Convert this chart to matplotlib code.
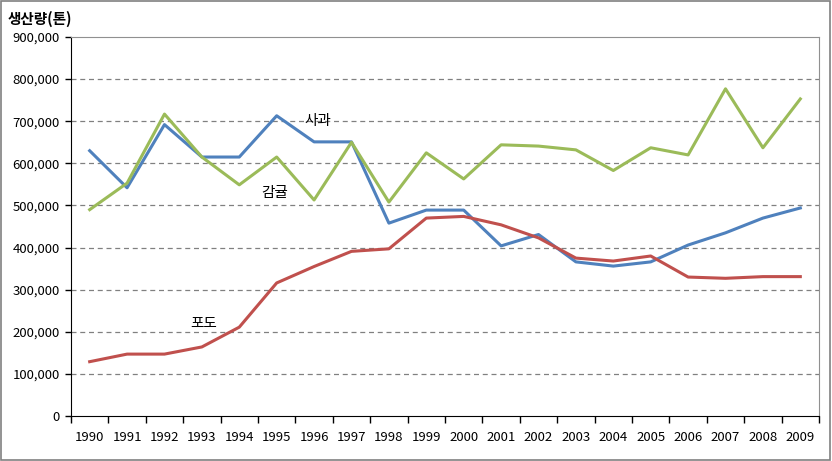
import matplotlib
matplotlib.use('Agg')
import matplotlib.pyplot as plt
from matplotlib.ticker import FuncFormatter, FixedLocator, NullFormatter
from matplotlib.patches import Rectangle

plt.rcParams['font.family'] = ['Noto Sans CJK KR', 'DejaVu Sans']

years = [str(y) for y in range(1990, 2010)]
apple = [630000, 542000, 692000, 615000, 615000, 713000, 651000, 651000, 458000, 489000,
         489000, 404000, 431000, 366000, 356000, 366000, 406000, 435000, 470000, 494000]
citrus = [490000, 553000, 717000, 615000, 549000, 615000, 513000, 650000, 508000, 625000,
          563000, 644000, 641000, 632000, 583000, 637000, 620000, 777000, 637000, 753000]
grape = [129000, 147000, 147000, 164000, 211000, 316000, 355000, 391000, 397000, 470000,
         474000, 454000, 423000, 375000, 368000, 380000, 330000, 327000, 331000, 331000]
yticks = list(range(0, 900001, 100000))

fig = plt.figure(figsize=(8.32, 4.61), dpi=100)
ax = fig.add_axes([0.0853, 0.0976, 0.8991, 0.8221])

x = list(range(len(years)))
ax.plot(x, apple, color='#4F81BD', lw=2.2)
ax.plot(x, citrus, color='#9BBB59', lw=2.2)
ax.plot(x, grape, color='#C0504D', lw=2.2)

ax.set_xlim(-0.5, len(years) - 0.5)
ax.set_ylim(0, 900000)

ax.set_xticks(x)
ax.set_xticklabels(years, fontsize=9.5)
ax.xaxis.set_minor_locator(FixedLocator([i - 0.5 for i in range(len(years) + 1)]))
ax.xaxis.set_minor_formatter(NullFormatter())
ax.tick_params(axis='x', which='major', length=0, pad=11)
ax.tick_params(axis='x', which='minor', length=5, width=1, color='black', direction='out')

ax.set_yticks(yticks)
ax.yaxis.set_major_formatter(FuncFormatter(lambda v, p: '{:,}'.format(int(v))))
ax.tick_params(axis='y', length=4, width=1, color='black', labelsize=9.5, pad=4)

for v in yticks[1:-1]:
    ax.axhline(v, color='#808080', lw=0.9, ls=(0, (4, 3)), zorder=0)

ax.spines['left'].set_color('black')
ax.spines['bottom'].set_color('black')
ax.spines['top'].set_color('#909090')
ax.spines['right'].set_color('#909090')

# series labels
ax.text(6.1, 700000, '사과', fontsize=10.5, va='center', ha='center')
ax.text(4.95, 530000, '감귤', fontsize=10.5, va='center', ha='center')
ax.text(3.05, 215000, '포도', fontsize=10.5, va='center', ha='center')

fig.text(0.009, 0.96, '생산량(톤)', fontsize=10.5, fontweight='bold', va='center', ha='left')

fig.patches.append(Rectangle((0.001, 0.002), 0.997, 0.995, transform=fig.transFigure,
                             fill=False, edgecolor='#808080', lw=1.2))

fig.savefig('out.png', dpi=100)
